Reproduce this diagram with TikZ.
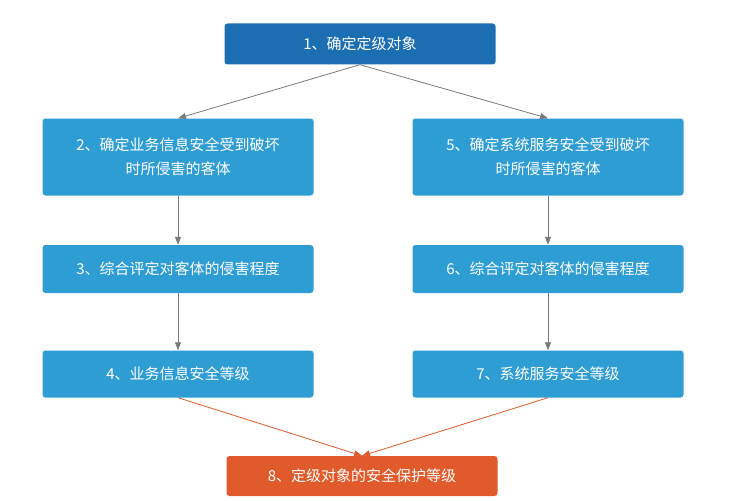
\documentclass[tikz,border=0pt]{standalone}
\usepackage{fontspec}
\setmainfont{Noto Sans CJK SC}
\usetikzlibrary{arrows.meta}
\definecolor{topblue}{HTML}{1C6EB2}
\definecolor{stepblue}{HTML}{2E9DD4}
\definecolor{endred}{HTML}{E05A2B}
\definecolor{linegray}{HTML}{7A7A7A}
\tikzset{
  box/.style={rectangle,rounded corners=3pt,fill=stepblue,text=white,
    align=center,font=\fontsize{15}{24}\selectfont,minimum width=271pt},
  flow/.style={-{Triangle[length=8pt,width=6pt]},line width=0.8pt,color=linegray},
  hot/.style={flow,color=endred}
}
\begin{document}
\begin{tikzpicture}[x=1pt,y=-1pt]
\useasboundingbox (0,0) rectangle (735,500);
% top and bottom
\node[box,fill=topblue,minimum height=41pt] (s1) at (360,44) {1、确定定级对象};
\node[box,fill=endred,minimum height=40pt] (s8) at (362,476) {8、定级对象的安全保护等级};
% left column
\node[box,minimum height=77pt] (s2) at (178,157) {2、确定业务信息安全受到破坏\\时所侵害的客体};
\node[box,minimum height=48pt] (s3) at (178,269) {3、综合评定对客体的侵害程度};
\node[box,minimum height=47pt] (s4) at (178,374) {4、业务信息安全等级};
% right column
\node[box,minimum height=77pt] (s5) at (548,157) {5、确定系统服务安全受到破坏\\时所侵害的客体};
\node[box,minimum height=48pt] (s6) at (548,269) {6、综合评定对客体的侵害程度};
\node[box,minimum height=47pt] (s7) at (548,374) {7、系统服务安全等级};
% connectors
\draw[flow] (s1.south) -- (s2.north);
\draw[flow] (s1.south) -- (s5.north);
\draw[flow] (s2) -- (s3);
\draw[flow] (s3) -- (s4);
\draw[flow] (s5) -- (s6);
\draw[flow] (s6) -- (s7);
\draw[hot] (s4.south) -- (s8.north);
\draw[hot] (s7.south) -- (s8.north);
\end{tikzpicture}
\end{document}
